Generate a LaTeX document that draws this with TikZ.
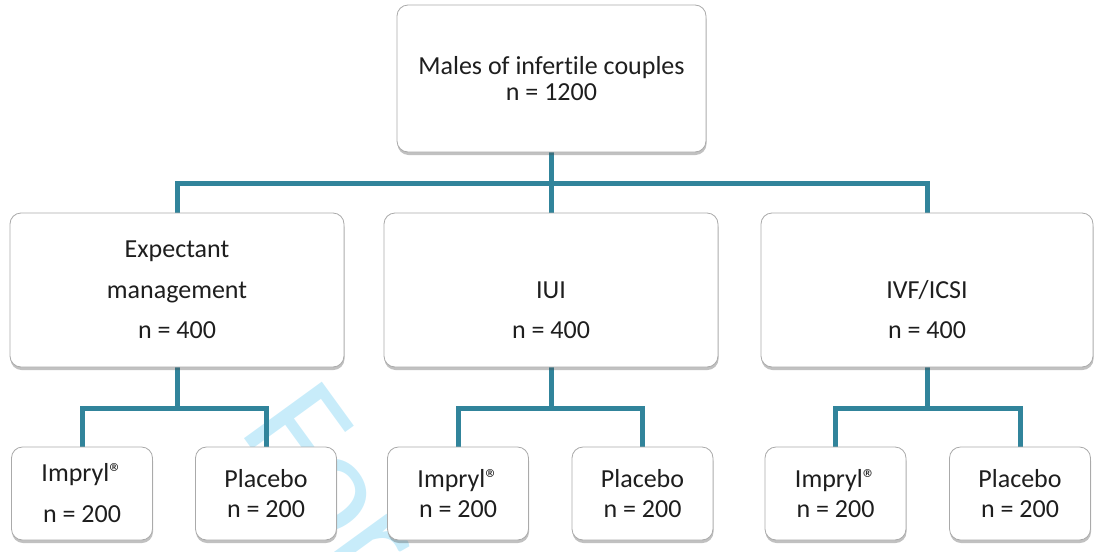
\documentclass[tikz,border=0pt]{standalone}
\usepackage{fontspec}
\setmainfont{Carlito}[Ligatures=NoCommon]
\usetikzlibrary{shadows}
\definecolor{teal1}{RGB}{49,132,155}
\definecolor{wm}{RGB}{200,236,250}
\definecolor{txt}{RGB}{30,30,30}
\definecolor{bord}{RGB}{170,170,170}
\begin{document}
\begin{tikzpicture}[x=1pt,y=-1pt,
  box/.style={draw=bord, line width=0.8pt, fill=white, rounded corners=11pt, inner sep=0pt,
    drop shadow={shadow xshift=0.5pt, shadow yshift=-3pt, opacity=0.35, fill=black!70}},
  conn/.style={draw=teal1, line width=5pt},
  lbl/.style={anchor=base, inner sep=0pt, text=txt, font=\fontsize{26}{30}\selectfont}]
\useasboundingbox (0,0) rectangle (1096,552);
% watermark
\node[anchor=base west, inner sep=0pt, rotate=-54, text=wm, font=\fontsize{150}{150}\selectfont] (wmark) at (238,430) {For};
% connectors
\coordinate (bus) at (551,183);
\draw[conn] (551,152) -- (bus);
\draw[conn] (177,213) |- (bus) -| (927,213);
\draw[conn] (bus) -- (551,213);
\draw[conn] (177,367) -- (177,408) -| (266,447);
\draw[conn] (177,408) -| (82,447);
\draw[conn] (551,367) -- (551,408) -| (642.5,447);
\draw[conn] (551,408) -| (458,447);
\draw[conn] (927,367) -- (927,408) -| (1020,447);
\draw[conn] (927,408) -| (835.5,447);
% boxes
\node[box, minimum width=309pt, minimum height=147pt] (top) at (551.5,78.5) {};
\node[box, minimum width=334pt, minimum height=154pt] (em) at (177,290) {};
\node[box, minimum width=334pt, minimum height=154pt] (iui) at (551,290) {};
\node[box, minimum width=332pt, minimum height=154pt] (ivf) at (927,290) {};
\node[box, minimum width=141pt, minimum height=93pt] (b1) at (82,493.5) {};
\node[box, minimum width=141pt, minimum height=93pt] (b2) at (266,493.5) {};
\node[box, minimum width=141pt, minimum height=93pt] (b3) at (458,493.5) {};
\node[box, minimum width=141pt, minimum height=93pt] (b4) at (642.5,493.5) {};
\node[box, minimum width=141pt, minimum height=93pt] (b5) at (835.5,493.5) {};
\node[box, minimum width=141pt, minimum height=93pt] (b6) at (1020,493.5) {};
% texts
\node[lbl] (t1) at (551.5,74) {Males of infertile couples};
\node[lbl] (t2) at (551.5,100) {n = 1200};
\node[lbl] (e1) at (177,257) {Expectant};
\node[lbl] (e2) at (177,298) {management};
\node[lbl] (e3) at (177,338) {n = 400};
\node[lbl] (i1) at (551,298) {IUI};
\node[lbl] (i2) at (551,338) {n = 400};
\node[lbl] (v1) at (927,298) {IVF/ICSI};
\node[lbl] (v2) at (927,338) {n = 400};
\node[lbl] (b1a) at (82,481) {Impryl®};
\node[lbl] (b1b) at (82,522) {n = 200};
\node[lbl] (b2a) at (266,487) {Placebo};
\node[lbl] (b2b) at (266,517) {n = 200};
\node[lbl] (b3a) at (458,487) {Impryl®};
\node[lbl] (b3b) at (458,517) {n = 200};
\node[lbl] (b4a) at (642.5,487) {Placebo};
\node[lbl] (b4b) at (642.5,517) {n = 200};
\node[lbl] (b5a) at (835.5,487) {Impryl®};
\node[lbl] (b5b) at (835.5,517) {n = 200};
\node[lbl] (b6a) at (1020,487) {Placebo};
\node[lbl] (b6b) at (1020,517) {n = 200};
\end{tikzpicture}
\end{document}
